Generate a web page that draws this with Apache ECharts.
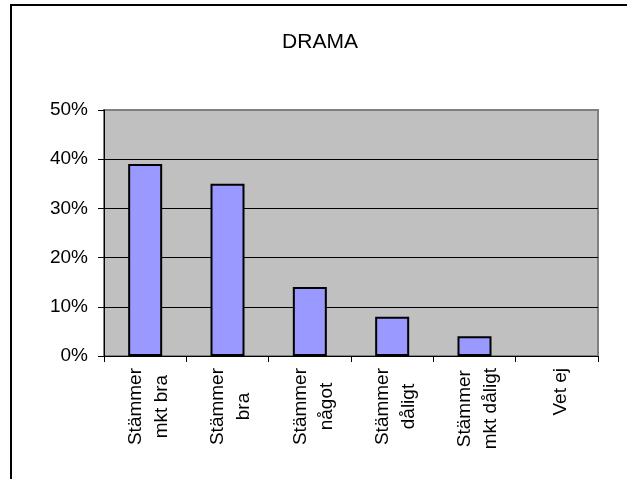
<!DOCTYPE html>
<html>
<head>
<meta charset="utf-8">
<script src="https://cdn.jsdelivr.net/npm/echarts@6/dist/echarts.min.js"></script>
<style>
html,body{margin:0;padding:0;background:#fff;}
#c{width:627px;height:479px;}
</style>
</head>
<body>
<div id="c"></div>
<script>
const title = 'DRAMA';
const categories = ['Stämmer\nmkt bra', 'Stämmer\nbra', 'Stämmer\nnågot', 'Stämmer\ndåligt', 'Stämmer\nmkt dåligt', 'Vet ej'];
const values = [39, 35, 14, 8, 4, 0];
const yMin = 0, yMax = 50, yStep = 10;

const FONT = '"Liberation Sans", Arial, sans-serif';
const chart = echarts.init(document.getElementById('c'), null, {renderer: 'canvas'});
chart.setOption({
  animation: false,
  backgroundColor: '#fff',
  graphic: [
    {type: 'rect', shape: {x: 11, y: 5, width: 700, height: 600},
     style: {fill: 'none', stroke: '#000', lineWidth: 2}, z: 100},
    {type: 'text', x: 320, y: 32,
     style: {text: title, fill: '#000', font: '21px ' + FONT, textAlign: 'center', textVerticalAlign: 'top'}}
  ],
  grid: {left: 104, right: 29, top: 110, bottom: 123, containLabel: false, outerBoundsMode: 'none',
         show: true, backgroundColor: '#c0c0c0', borderColor: '#808080', borderWidth: 2},
  xAxis: {
    type: 'category', data: categories,
    axisLine: {show: true, lineStyle: {color: '#000', width: 1}},
    axisTick: {show: true, alignWithLabel: false, length: 6, lineStyle: {color: '#000'}},
    axisLabel: {
      interval: 0, rotate: 90, margin: 12, color: '#000', padding: [7, 0, 0, 0],
      fontFamily: FONT, fontSize: 19, lineHeight: 26,
      formatter: function (v) { return v.split('\n').map(function (s) { return '{c|' + s + '}'; }).join('\n'); },
      rich: {c: {align: 'center', fontFamily: FONT, fontSize: 19, lineHeight: 26, color: '#000'}}
    },
    splitLine: {show: false}
  },
  yAxis: {
    type: 'value', min: yMin, max: yMax, interval: yStep,
    axisLine: {show: true, lineStyle: {color: '#000', width: 1}},
    axisTick: {show: true, length: 6, lineStyle: {color: '#000'}},
    axisLabel: {formatter: '{value}%', color: '#000', fontFamily: FONT, fontSize: 19, margin: 16},
    splitLine: {show: true, showMinLine: false, showMaxLine: false, lineStyle: {color: '#000', width: 1}}
  },
  series: [{
    type: 'bar', barWidth: 34,
    data: values.map(function (v) { return v === 0 ? {value: v, itemStyle: {borderWidth: 0}} : v; }),
    itemStyle: {color: '#9999ff', borderColor: '#000', borderWidth: 2}
  }]
});
</script>
</body>
</html>
